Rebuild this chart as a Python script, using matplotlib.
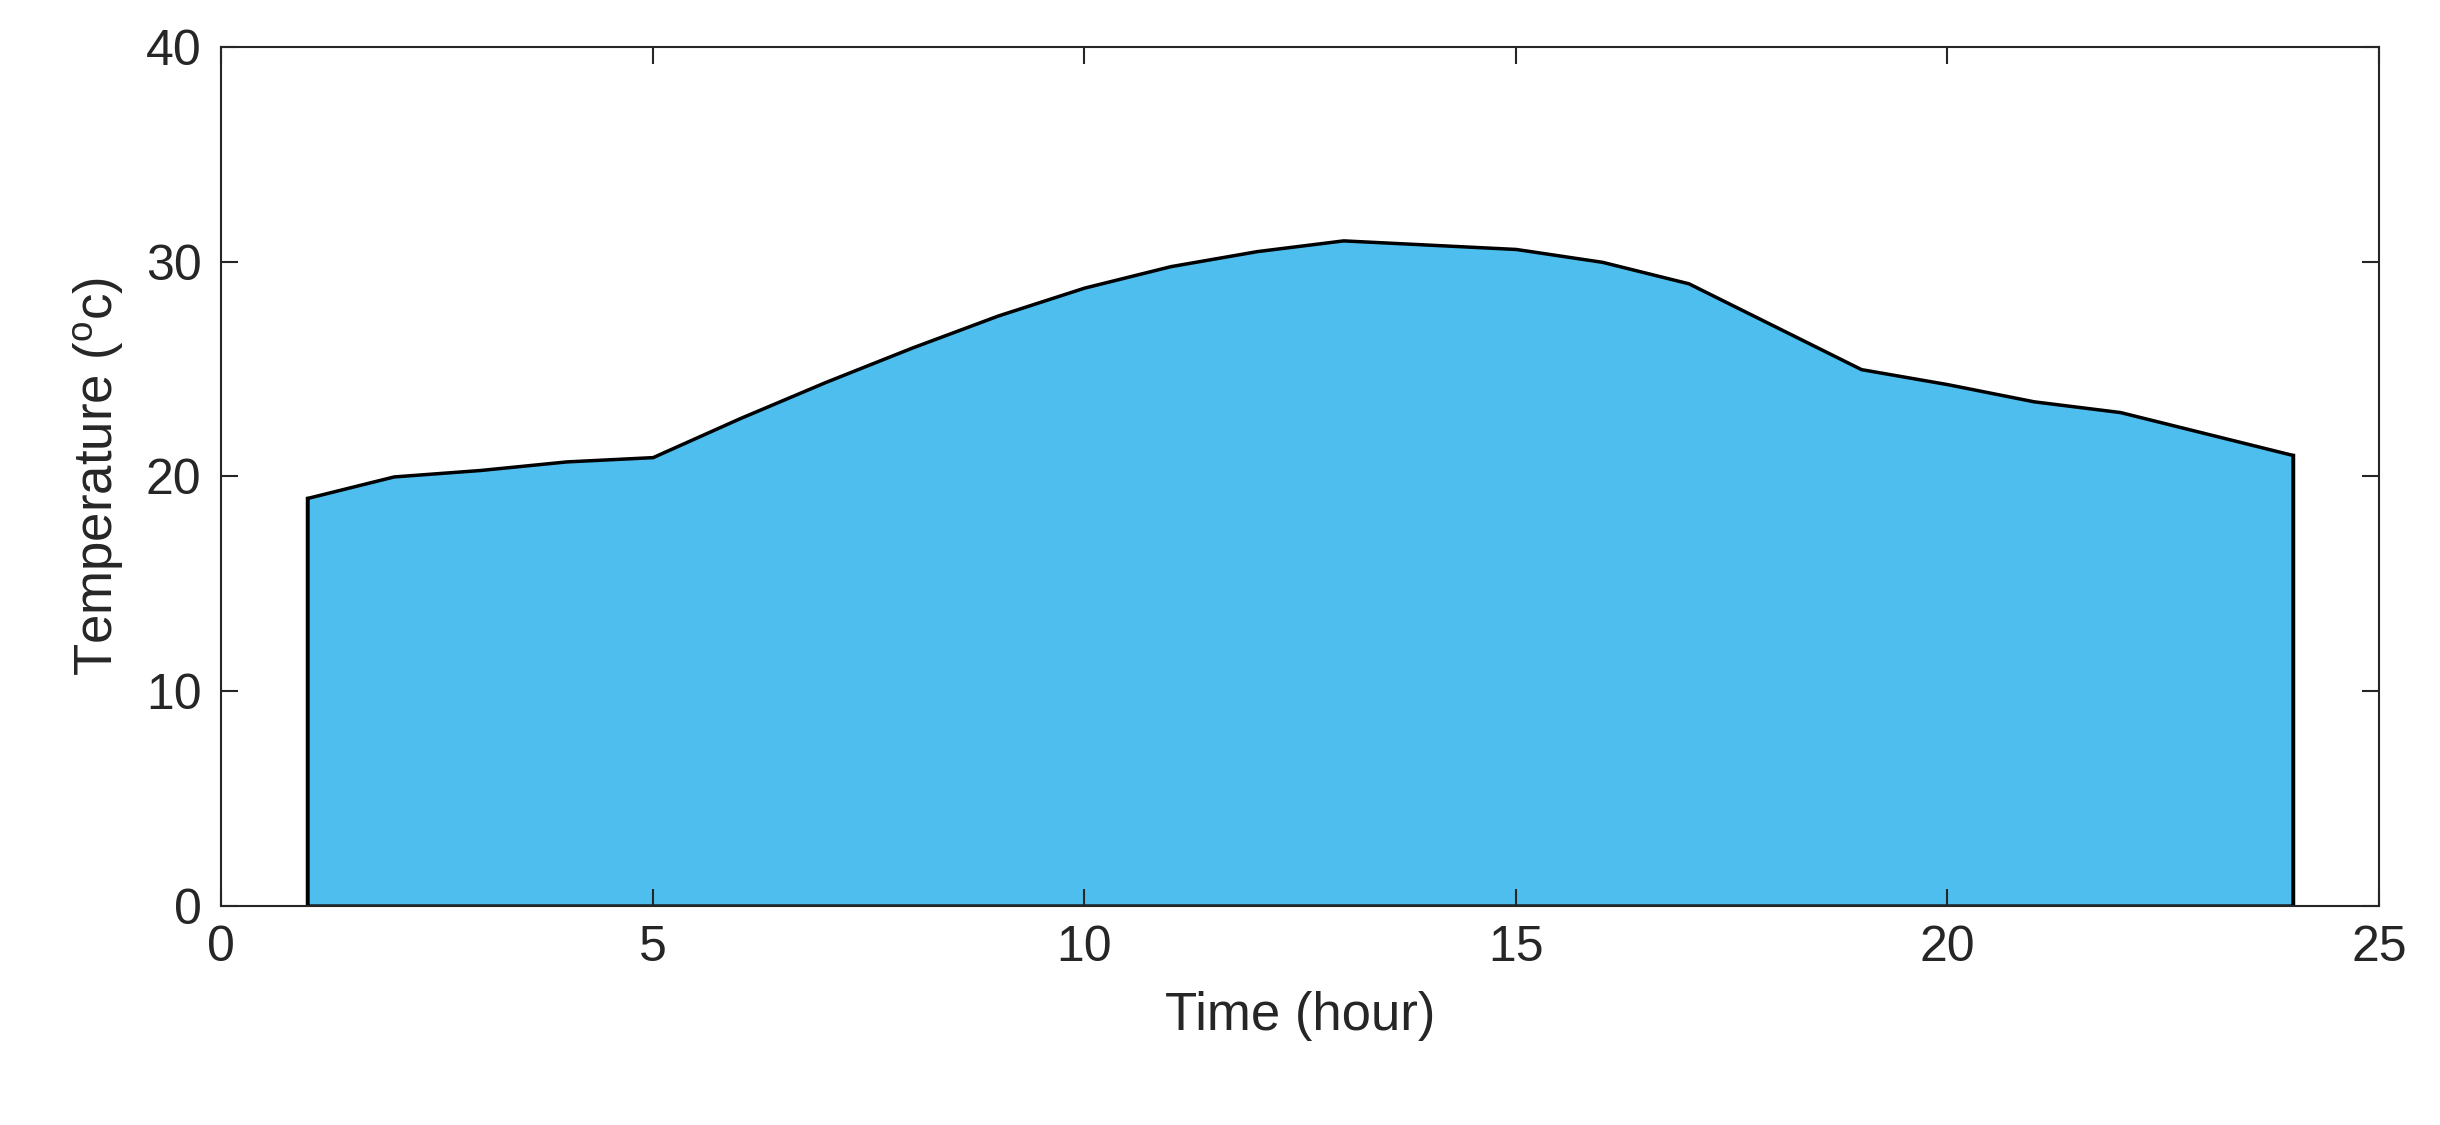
import matplotlib
matplotlib.use("Agg")
import matplotlib.pyplot as plt

hours = list(range(1, 25))
temps = [19, 20, 20.3, 20.7, 20.9, 22.7, 24.4, 26, 27.5, 28.8, 29.8, 30.5, 31,
         30.8, 30.6, 30, 29, 27, 25, 24.3, 23.5, 23, 22, 21]

plt.rcParams['font.family'] = ['Liberation Sans', 'DejaVu Sans']
fig = plt.figure(figsize=(24.4, 11.25), dpi=100)
ax = fig.add_axes([0.0906, 0.195, 0.8844, 0.763])
ax.fill_between(hours, 0, temps, color='#4DBEEE', edgecolor='black', linewidth=2.5)
ax.plot([hours[0], hours[0]], [0, temps[0]], color='black', lw=2.5)
ax.plot([hours[-1], hours[-1]], [0, temps[-1]], color='black', lw=2.5)
ax.set_xlim(0, 25)
ax.set_ylim(0, 40)
ax.set_xticks([0, 5, 10, 15, 20, 25])
ax.set_yticks([0, 10, 20, 30, 40])
c = '#262626'
ax.tick_params(direction='in', length=12, width=1.5, top=True, right=True,
               labelsize=36, colors=c, pad=14)
for s in ax.spines.values():
    s.set_linewidth(1.5)
    s.set_color(c)
ax.set_xlabel('Time (hour)', fontsize=38, color=c, labelpad=14)
ax.set_ylabel('Temperature ($\\mathregular{^o}$c)', fontsize=38, color=c, labelpad=14)
fig.savefig('out.png', dpi=100)
